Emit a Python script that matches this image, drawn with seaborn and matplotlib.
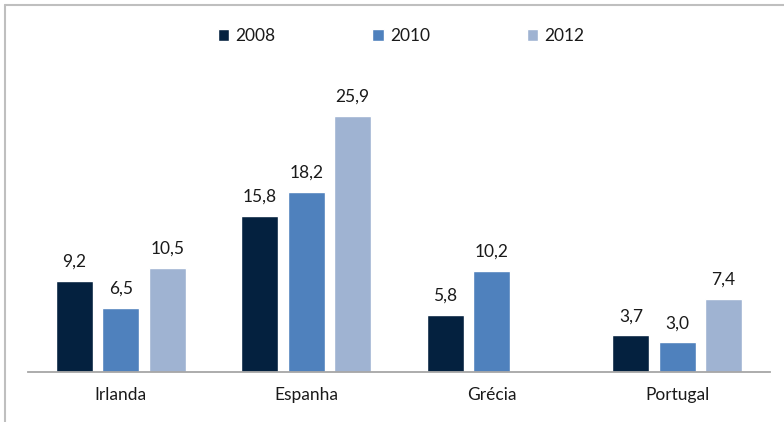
import numpy as np
import pandas as pd
import matplotlib
matplotlib.use("Agg")
import matplotlib.pyplot as plt
from matplotlib.lines import Line2D
import seaborn as sns

countries = ["Irlanda", "Espanha", "Grécia", "Portugal"]
years = ["2008", "2010", "2012"]
v2008 = [9.2, 15.8, 5.8, 3.7]
v2010 = [6.5, 18.2, 10.2, 3.0]
v2012 = [10.5, 25.9, np.nan, 7.4]
colors = ["#04213f", "#4f81bd", "#9fb3d2"]

df = pd.DataFrame({
    "país": countries * 3,
    "ano": [y for y in years for _ in countries],
    "valor": v2008 + v2010 + v2012,
})

sns.set_theme(style="white")
plt.rcParams["font.family"] = ["Lato", "DejaVu Sans"]

fig = plt.figure(figsize=(7.84, 4.22), dpi=100)
ax = fig.add_axes([28 / 784, 50 / 422, 742 / 784, (372 - 75.5) / 422])

sns.barplot(data=df, x="país", y="valor", hue="ano", palette=colors,
            saturation=1, width=0.75, gap=0.2, ax=ax, legend=True)

ax.set_ylim(0, 30)
ax.set_xlim(-0.5, 3.5)
ax.set_xlabel("")
ax.set_ylabel("")
ax.set_yticks([])
for s in ["top", "right", "left"]:
    ax.spines[s].set_visible(False)
ax.spines["bottom"].set_color("#a6a6a6")
ax.spines["bottom"].set_linewidth(1.3)
ax.tick_params(axis="x", length=0, pad=11, labelsize=12.5, colors="#1a1a1a")

for cont in ax.containers:
    labels = ["" if np.isnan(v) else f"{v:.1f}".replace(".", ",") for v in cont.datavalues]
    ax.bar_label(cont, labels=labels, padding=8, fontsize=12.5, color="#1a1a1a")

leg = ax.legend(loc="upper center", bbox_to_anchor=(0.5 + 2 / 742, (372 - 33) / (372 - 75.5) + 0.04),
                ncol=3, frameon=False, fontsize=12.5, handlelength=0.65, handleheight=0.65,
                handletextpad=0.35, columnspacing=5.6, borderaxespad=0)
for t in leg.get_texts():
    t.set_color("#1a1a1a")

# outer frame
fig.add_artist(Line2D([5 / 784, 1], [1 - 5 / 422, 1 - 5 / 422], transform=fig.transFigure,
                      color="#bfbfbf", lw=1.5))
fig.add_artist(Line2D([5 / 784, 5 / 784], [0, 1 - 5 / 422], transform=fig.transFigure,
                      color="#bfbfbf", lw=1.5))

fig.savefig("out.png", dpi=100)
